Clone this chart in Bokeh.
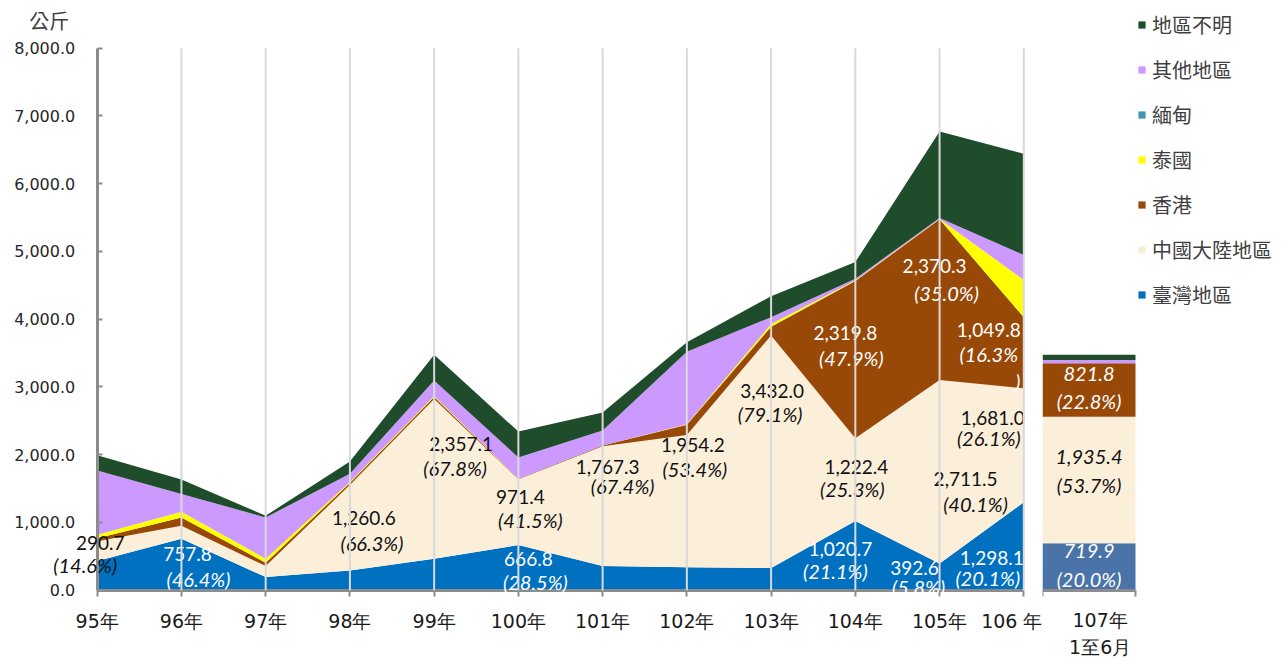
from bokeh.plotting import figure
from bokeh.models import (ColumnDataSource, Range1d, FixedTicker, NumeralTickFormatter,
                          LabelSet, Label, Legend, LegendItem)
from bokeh.core.properties import value
from bokeh.layouts import row
from bokeh.embed import file_html
from bokeh.resources import INLINE

# ---------------- data (kg) ----------------
years = ["95年", "96年", "97年", "98年", "99年", "100年", "101年", "102年",
         "103年", "104年", "105年", "106 年"]
series_names = ["臺灣地區", "中國大陸地區", "香港", "泰國", "緬甸", "其他地區", "地區不明"]

taiwan   = [431.0, 757.8, 193.0, 292.0, 465.0, 666.8, 359.0, 337.0, 328.0, 1020.7, 392.6, 1298.1]
china    = [290.7, 192.0, 163.0, 1260.6, 2357.1, 971.4, 1767.3, 1954.2, 3432.0, 1222.4, 2711.5, 1681.0]
hongkong = [45.0, 124.0, 50.0, 30.0, 30.0, 5.0, 8.0, 150.0, 130.0, 2319.8, 2370.3, 1049.8]
thailand = [50.0, 84.0, 59.0, 15.0, 15.0, 2.0, 2.0, 10.0, 40.0, 10.0, 5.0, 551.0]
myanmar  = [0.0, 0.0, 0.0, 0.0, 0.0, 0.0, 0.0, 0.0, 0.0, 0.0, 0.0, 0.0]
other    = [950.0, 263.0, 609.0, 120.0, 227.0, 313.0, 220.0, 1070.0, 100.0, 25.0, 15.0, 367.0]
unknown  = [224.0, 212.0, 25.0, 183.0, 382.0, 383.0, 266.0, 139.0, 309.0, 245.0, 1276.0, 1496.0]

taiwan_pct = [None, 46.4, None, None, None, 28.5, None, None, None, 21.1, 5.8, 20.1]
china_pct  = [14.6, None, None, 66.3, 67.8, 41.5, 67.4, 53.4, 79.1, 25.3, 40.1, 26.1]
hk_pct     = [None, None, None, None, None, None, None, None, None, 47.9, 35.0, 16.3]

y_ticks = [0, 1000, 2000, 3000, 4000, 5000, 6000, 7000, 8000]

bar_label = "107年\n1至6月"
bar_values = [719.9, 1935.4, 821.8, 0.0, 0.0, 50.0, 77.0]
bar_pct = [20.0, 53.7, 22.8]

# ---------------- styles / layout ----------------
keys = ["taiwan", "china", "hongkong", "thailand", "myanmar", "other", "unknown"]
colors = ["#0070c0", "#fcefda", "#984807", "#ffff00", "#4198b0", "#cc99ff", "#1f4d2c"]
bar_colors = ["#4a74a8", "#fcefda", "#984807", "#ffff00", "#4198b0", "#cc99ff", "#1f4d2c"]
NUM_FONT = "DejaVu Sans"
LBL_FONT = "Lato"
CJK_FONT = "Noto Sans CJK TC"
AXIS_GRAY = "#8c8c8c"

H = 660                # figure height (frame covers the whole figure)
ZERO_Y = 589.7         # screen y of value 0
AXIS_X = 96.7          # screen x of the y axis
LAST_X = 1023.3        # screen x of the last year
MAIN_W = 1042
PX_PER_KG = 0.06775    # main scale
BAR_PX_PER_KG = 0.0653 # 107 bar scale (slightly different in reference)
BAR_W_PX = 93
BAR_LABEL_SHIFT = 0.12 # bar category label sits a little right of the bar centre
P2_W = 1287 - MAIN_W

arrays = [taiwan, china, hongkong, thailand, myanmar, other, unknown]
idx = list(range(len(years)))
n_last = idx[-1]
src = ColumnDataSource(dict(x=idx, **{k: a for k, a in zip(keys, arrays)}))

px_per_year = (LAST_X - AXIS_X) / n_last
x_rng = Range1d(-AXIS_X / px_per_year, (MAIN_W - AXIS_X) / px_per_year)
y_rng = Range1d(-(H - ZERO_Y) / PX_PER_KG, ZERO_Y / PX_PER_KG)

p = figure(width=MAIN_W, height=H, x_range=x_rng, y_range=y_rng,
           output_backend="svg", toolbar_location=None,
           min_border_left=0, min_border_right=0, min_border_top=0, min_border_bottom=0)
p.outline_line_color = None
p.background_fill_color = "white"
p.grid.visible = False

p.varea_stack(stackers=keys, x="x", fill_color=colors, source=src)

# x axis fixed at 0
p.xaxis.fixed_location = 0
p.xaxis.bounds = (0, n_last)
p.xaxis.ticker = FixedTicker(ticks=idx)
p.xaxis.major_label_overrides = {i: t for i, t in enumerate(years)}
p.xaxis.axis_line_color = AXIS_GRAY
p.xaxis.axis_line_width = 3
p.xaxis.major_tick_line_color = AXIS_GRAY
p.xaxis.major_tick_line_width = 2
p.xaxis.major_tick_out = 6
p.xaxis.major_tick_in = 0
p.xaxis.minor_tick_line_color = None
p.xaxis.major_label_standoff = 14
p.xaxis.major_label_text_font = NUM_FONT
p.xaxis.major_label_text_font_size = "19px"
p.xaxis.major_label_text_color = "#1a1a1a"

# y axis fixed at the first year
p.yaxis.fixed_location = 0
p.yaxis.bounds = (0, y_ticks[-1])
p.yaxis.ticker = FixedTicker(ticks=y_ticks)
p.yaxis.formatter = NumeralTickFormatter(format="0,0.0")
p.yaxis.axis_line_color = AXIS_GRAY
p.yaxis.axis_line_width = 3
p.yaxis.major_tick_line_color = AXIS_GRAY
p.yaxis.major_tick_line_width = 2
p.yaxis.major_tick_in = 5
p.yaxis.major_tick_out = 0
p.yaxis.minor_tick_line_color = None
p.yaxis.major_label_standoff = 22
p.yaxis.major_label_text_font = NUM_FONT
p.yaxis.major_label_text_font_size = "16px"
p.yaxis.major_label_text_color = "#262626"

# vertical gridlines at each year, drawn on top (as in the reference)
p.segment(x0=idx[1:], y0=[y_ticks[0]] * n_last, x1=idx[1:], y1=[y_ticks[-1]] * n_last,
          line_color="#d9d9d9", line_width=2, level="overlay")

p.add_layout(Label(x=0, y=y_ticks[-1], x_offset=-48, y_offset=28, text="公斤",
                   text_font=CJK_FONT, text_font_size="20px", text_color="#404040",
                   text_align="center", text_baseline="middle"))

# ---------------- data labels ----------------
def stack_mid(vals_by_series, si, yi):
    base = sum(vals_by_series[k][yi] for k in range(si))
    return base + vals_by_series[si][yi] / 2.0

pct_by_series = {0: taiwan_pct, 1: china_pct, 2: hk_pct}
label_color = {0: "white", 1: "#111111", 2: "white"}
# (series, year index, value dx, value dy, pct dx, pct dy, wrap-paren)
label_specs = [
    (1, 0, 3, 8, -12, -14, False),
    (0, 1, 6, 11, 17, -14, False),
    (1, 3, 14, 10, 22, -15, False),
    (1, 4, 27, 35, 21, 11, False),
    (1, 5, 2, 15, 12, -8, False),
    (0, 5, 10, 9, 17, -14, False),
    (1, 6, 5, 39, 20, 20, False),
    (1, 7, 6, 56, 8, 32, False),
    (1, 8, 1, 61, -1, 38, False),
    (2, 9, -10, 27, -4, 2, False),
    (1, 9, 1, 13, -3, -9, False),
    (0, 9, -15, 7, -20, -15, False),
    (2, 10, -5, 34, 7, 7, False),
    (1, 10, 26, -7, 36, -32, False),
    (0, 10, -25, 9, -21, -10, False),
    (2, 11, -35, 23, -35, -1, True),
    (1, 11, -31, 27, -35, 7, False),
    (0, 11, -32, -12, -36, -32, False),
]
lab = dict(x=[], y=[], text=[], xo=[], yo=[], color=[], style=[], size=[])
def add_lab(x, y, t, xo, yo, c, s, sz):
    lab["x"].append(x); lab["y"].append(y); lab["text"].append(t)
    lab["xo"].append(xo); lab["yo"].append(yo); lab["color"].append(c)
    lab["style"].append(s); lab["size"].append(sz)

for si, yi, vdx, vdy, pdx, pdy, wrap in label_specs:
    v = arrays[si][yi]
    ym = stack_mid(arrays, si, yi)
    c = label_color[si]
    add_lab(yi, ym, f"{v:,.1f}", vdx, vdy, c, "normal", "19px")
    pt = f"({pct_by_series[si][yi]:.1f}%)"
    if wrap:
        add_lab(yi, ym, pt[:-1], pdx, pdy, c, "italic", "20px")
        add_lab(yi, ym, pt[-1], pdx + 29, pdy - 27, c, "italic", "20px")
    else:
        add_lab(yi, ym, pt, pdx, pdy, c, "italic", "20px")

p.add_layout(LabelSet(x="x", y="y", text="text", x_offset="xo", y_offset="yo",
                      text_color="color", text_font_style="style", text_font_size="size",
                      text_font=value(LBL_FONT), text_align="center", text_baseline="middle",
                      source=ColumnDataSource(lab)))

# ---------------- 107 bar (own panel, incl. legend area) ----------------
bsrc = ColumnDataSource(dict(x=[0], **{k: [v] for k, v in zip(keys, bar_values)}))
p2 = figure(width=P2_W, height=H, x_range=Range1d(-0.5, -0.5 + P2_W / BAR_W_PX),
            y_range=Range1d(-(H - ZERO_Y) / BAR_PX_PER_KG, ZERO_Y / BAR_PX_PER_KG),
            output_backend="svg", toolbar_location=None, y_axis_location=None,
            min_border_left=0, min_border_right=0, min_border_top=0, min_border_bottom=0)
p2.outline_line_color = None
p2.grid.visible = False
p2.vbar_stack(stackers=keys, x="x", width=1.0, fill_color=bar_colors, line_color=None, source=bsrc)

p2.xaxis.fixed_location = 0
p2.xaxis.ticker = FixedTicker(ticks=[BAR_LABEL_SHIFT], minor_ticks=[-0.5, 0.5])
p2.xaxis.bounds = (-0.5, 0.5)
p2.xaxis.major_label_overrides = {BAR_LABEL_SHIFT: bar_label}
p2.xaxis.axis_line_color = AXIS_GRAY
p2.xaxis.axis_line_width = 3
p2.xaxis.major_tick_line_color = None
p2.xaxis.minor_tick_line_color = AXIS_GRAY
p2.xaxis.minor_tick_line_width = 2
p2.xaxis.minor_tick_out = 6
p2.xaxis.minor_tick_in = 0
p2.xaxis.major_label_standoff = 13
p2.xaxis.major_label_text_font = NUM_FONT
p2.xaxis.major_label_text_font_size = "19px"
p2.xaxis.major_label_text_color = "#1a1a1a"

blab = dict(x=[], y=[], text=[], yo=[], color=[])
bar_dy = [(16, -12), (23, -5.5), (15.5, -11.5)]
bar_txt_color = ["white", "#111111", "white"]
for si in range(3):
    ym = stack_mid([[v] for v in bar_values], si, 0)
    blab["x"] += [0, 0]
    blab["y"] += [ym, ym]
    blab["text"] += [f"{bar_values[si]:,.1f}", f"({bar_pct[si]:.1f}%)"]
    blab["yo"] += list(bar_dy[si])
    blab["color"] += [bar_txt_color[si]] * 2
p2.add_layout(LabelSet(x="x", y="y", text="text", y_offset="yo", text_color="color",
                       text_font_style="italic", text_font_size="20px", text_font=value(LBL_FONT),
                       text_align="center", text_baseline="middle", source=ColumnDataSource(blab)))

# legend (uses hidden area renderers in the main colours)
hidden = p2.varea_stack(stackers=keys, x="x", fill_color=colors, source=src)
for r in hidden:
    r.visible = False
items = [LegendItem(label=n, renderers=[r]) for n, r in zip(series_names, hidden)][::-1]
legend = Legend(items=items, location=(95, 351), orientation="vertical",
                label_text_font=CJK_FONT, label_text_font_size="20px", label_text_color="#404040",
                glyph_width=9, glyph_height=9, label_height=22, spacing=16, padding=0, margin=0,
                label_standoff=6, border_line_color=None, background_fill_alpha=0)
p2.add_layout(legend)

layout = row(p, p2)
open("out.html", "w").write(file_html(layout, INLINE))
